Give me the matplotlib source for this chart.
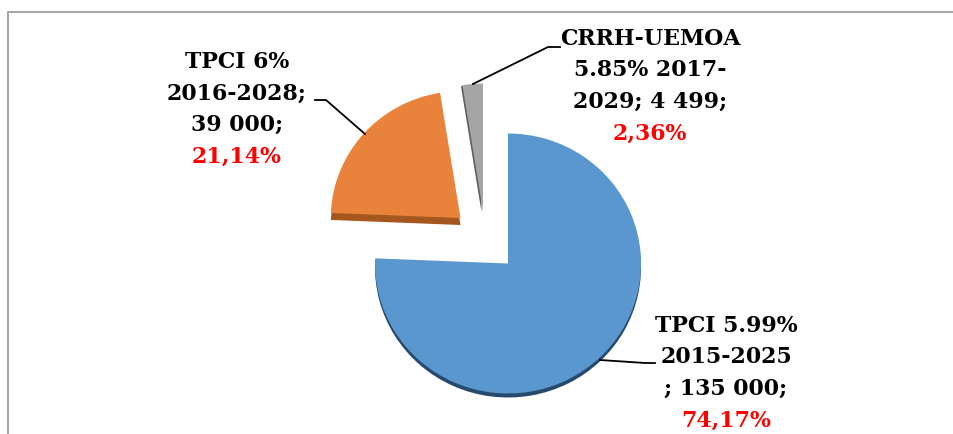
import matplotlib
matplotlib.use('Agg')
import matplotlib.pyplot as plt

W, H = 954, 435

values = [135000, 39000, 4499]
face_colors = ['#5b97cf', '#e9833b', '#a5a5a5']
side_colors = ['#264a6e', '#a5571f', '#5f5f5f']

label_lines = [
    ['TPCI 5.99%', '2015-2025', '; 135 000;', '74,17%'],
    ['TPCI 6%', '2016-2028;', '39 000;', '21,14%'],
    ['CRRH-UEMOA', '5.85% 2017-', '2029; 4 499;', '2,36%'],
]

# where things sit, in pixels of the picture
centers = [(508, 264.5), (460.5, 219), (483, 212)]
radii = [1.0, 0.975, 0.98]
side_shift = [(0, 4), (0, 7), (-1.5, 1)]
label_x = [726, 237, 650]
label_y = [326, 62, 39]
line_step = 31.5
leaders = [
    ([600, 645, 655], [361, 364, 364]),
    ([315, 326, 365], [101, 101, 135]),
    ([560, 548, 473], [48, 48, 85]),
]

RX, RY = 133.0, 130.0


def px(x, y):
    return (x - 508) / RX, (262 - y) / RY


fig = plt.figure(figsize=(W / 100, H / 100), dpi=100)
ax = fig.add_axes([0, 0, 1, 1])


def draw_pie(colors, shifts, z):
    wedges, _ = ax.pie(values, colors=colors, startangle=90, counterclock=False)
    for w, c, r, s in zip(wedges, centers, radii, shifts):
        w.set_center(px(c[0] + s[0], c[1] + s[1]))
        w.set_radius(r)
        w.set_zorder(z)


draw_pie(side_colors, side_shift, 1)
draw_pie(face_colors, [(0, 0)] * 3, 2)

ax.set_aspect('auto')
ax.set_xlim(px(0, 0)[0], px(W, 0)[0])
ax.set_ylim(px(0, H)[1], px(0, 0)[1])
ax.axis('off')

# chart frame, cut off by the picture on the right and at the bottom
fx = [8, 8, W]
fy = [H, 12.5, 12.5]
ax.plot(*zip(*[px(a, b) for a, b in zip(fx, fy)]), color='#a6a6a6', lw=1.5, zorder=0)

for xs, ys in leaders:
    pts = [px(a, b) for a, b in zip(xs, ys)]
    ax.plot(*zip(*pts), color='black', lw=1.3, zorder=3)

for lines, x0, y0 in zip(label_lines, label_x, label_y):
    for i, line in enumerate(lines):
        tx, ty = px(x0, y0 + i * line_step)
        ax.text(tx, ty, line, ha='center', va='center', family='DejaVu Serif', weight='bold',
                fontsize=15.8, color='red' if i == 3 else 'black', zorder=4)

fig.savefig('out.png', dpi=100)
